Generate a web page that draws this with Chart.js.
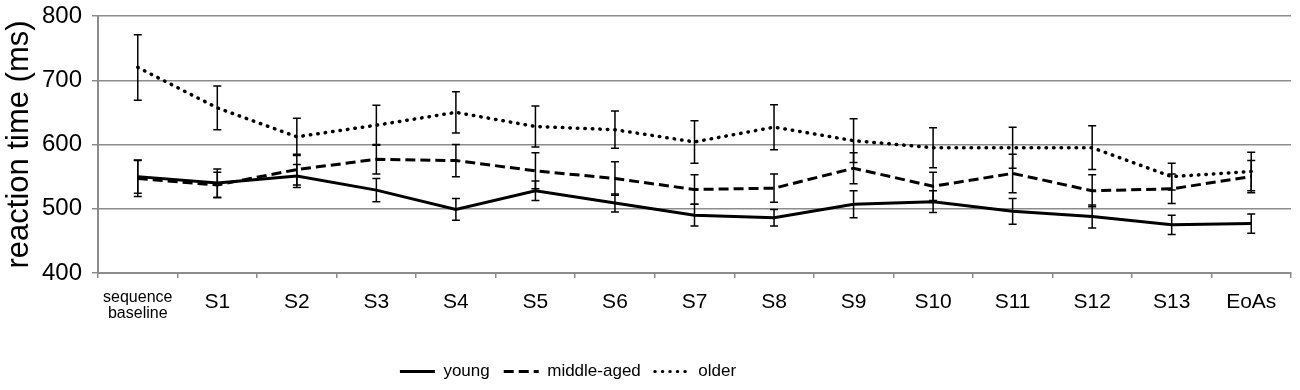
<!DOCTYPE html>
<html>
<head>
<meta charset="utf-8">
<script src="https://cdn.jsdelivr.net/npm/chart.js@4/dist/chart.umd.min.js"></script>
<style>
  body { margin: 0; background: #fff; }
  #wrap { width: 1300px; height: 390px; }
</style>
</head>
<body>
<div id="wrap"><canvas id="rtChart"></canvas></div>
<script>
const categories = [['sequence', 'baseline'], 'S1', 'S2', 'S3', 'S4', 'S5', 'S6', 'S7', 'S8', 'S9', 'S10', 'S11', 'S12', 'S13', 'EoAs'];

const young = [550, 540, 551, 529, 499, 528, 509, 490, 486, 507, 511, 496, 488, 475, 477];
const youngErr = [26, 22, 18, 18, 17, 15, 14, 17, 13, 21, 17, 20, 18, 15, 15];

const middleAged = [547, 537, 561, 577, 575, 559, 547, 530, 532, 563, 535, 555, 528, 531, 550];
const middleAgedErr = [28, 20, 24, 23, 25, 28, 26, 23, 22, 24, 22, 30, 25, 23, 25];

const older = [720, 657, 612, 630, 650, 628, 623, 604, 627, 606, 595, 595, 595, 550, 558];
const olderErr = [51, 34, 29, 31, 32, 32, 29, 33, 35, 34, 31, 32, 34, 21, 30];

const yTicks = [400, 500, 600, 700, 800];

const FONT = "'Liberation Sans', Arial, sans-serif";
const errors = [youngErr, middleAgedErr, olderErr];

// error bars, drawn from the y scale
const errorBars = {
  id: 'errorBars',
  afterDatasetsDraw(chart) {
    const ctx = chart.ctx;
    const xs = chart.scales.x, ys = chart.scales.y;
    ctx.save();
    ctx.strokeStyle = '#000';
    ctx.lineWidth = 1.5;
    chart.data.datasets.forEach((ds, d) => {
      ds.data.forEach((v, i) => {
        const e = errors[d][i];
        const x = xs.getPixelForValue(i);
        const top = ys.getPixelForValue(v + e);
        const bot = ys.getPixelForValue(v - e);
        ctx.beginPath();
        ctx.moveTo(x, top); ctx.lineTo(x, bot);
        ctx.moveTo(x - 4, top); ctx.lineTo(x + 4, top);
        ctx.moveTo(x - 4, bot); ctx.lineTo(x + 4, bot);
        ctx.stroke();
      });
    });
    ctx.restore();
  }
};

// the legend in the original sits left of the canvas centre
const legendShift = {
  id: 'legendShift',
  afterLayout(chart) {
    const lg = chart.legend;
    lg.right = lg.left + 1136;
  }
};

const ctx = document.getElementById('rtChart').getContext('2d');
new Chart(ctx, {
  type: 'line',
  data: {
    labels: categories,
    datasets: [{
      label: 'young',
      data: young,
      borderColor: '#000',
      backgroundColor: '#000',
      borderWidth: 3,
      pointRadius: 0,
      pointStyle: 'line',
      tension: 0
    }, {
      label: 'middle-aged',
      data: middleAged,
      borderColor: '#000',
      backgroundColor: '#000',
      borderWidth: 3,
      borderDash: [10, 5],
      pointRadius: 0,
      pointStyle: 'line',
      tension: 0
    }, {
      label: 'older',
      data: older,
      borderColor: '#000',
      backgroundColor: '#000',
      borderWidth: 3.5,
      borderDash: [0.5, 7],
      borderCapStyle: 'round',
      pointRadius: 0,
      pointStyle: 'line',
      tension: 0
    }]
  },
  options: {
    responsive: true,
    maintainAspectRatio: false,
    animation: false,
    layout: { padding: { top: 16, right: 9, left: 0, bottom: 0 } },
    plugins: {
      tooltip: { enabled: false },
      legend: {
        position: 'bottom',
        labels: {
          usePointStyle: true,
          pointStyleWidth: 35,
          padding: 14,
          color: '#000',
          font: { family: FONT, size: 17 },
          generateLabels(chart) {
            const items = Chart.defaults.plugins.legend.labels.generateLabels(chart);
            items.forEach(it => {
              const ds = chart.data.datasets[it.datasetIndex];
              it.lineDash = ds.borderDash || [];
              it.lineCap = ds.borderCapStyle || 'butt';
              it.lineWidth = 3;
              it.strokeStyle = '#000';
            });
            return items;
          }
        }
      }
    },
    scales: {
      x: {
        offset: true,
        afterFit(scale) { scale.height = 76; },
        grid: {
          offset: true,
          drawOnChartArea: false,
          drawTicks: true,
          tickLength: 5,
          color: '#8c8c8c',
          lineWidth: 1.5
        },
        border: { display: true, color: '#8c8c8c', width: 2 },
        ticks: {
          color: '#000',
          padding: 12,
          maxRotation: 0,
          font: (c) => c.index === 0
            ? { family: FONT, size: 16, lineHeight: 1.0 }
            : { family: FONT, size: 21, lineHeight: 1.2 }
        }
      },
      y: {
        min: 400,
        max: 800,
        afterFit(scale) {
          scale.width = 98;
          scale.paddingTop = 0;
          scale.paddingBottom = 0;
        },
        afterBuildTicks(scale) { scale.ticks = yTicks.map(v => ({ value: v })); },
        grid: {
          color: '#8c8c8c',
          lineWidth: 1.5,
          tickLength: 6
        },
        border: { display: true, color: '#8c8c8c', width: 2 },
        ticks: {
          color: '#000',
          padding: 10,
          font: { family: FONT, size: 24 }
        },
        title: {
          display: true,
          text: 'reaction time (ms)',
          color: '#000',
          padding: { top: 1, bottom: 0 },
          font: { family: FONT, size: 31 }
        }
      }
    }
  },
  plugins: [errorBars, legendShift]
});
</script>
</body>
</html>
